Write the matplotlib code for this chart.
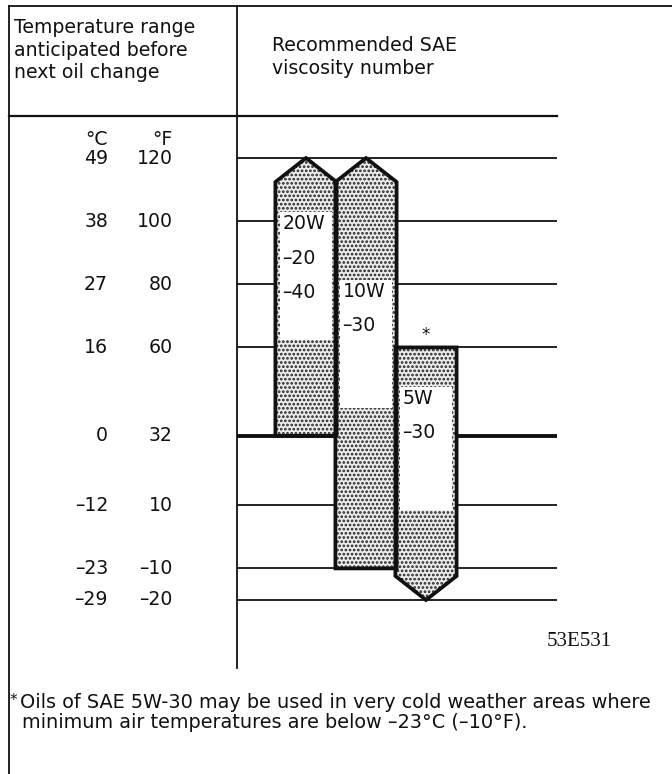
import matplotlib
matplotlib.use('Agg')
import matplotlib.pyplot as plt
from matplotlib.patches import Polygon, Rectangle

plt.rcParams['font.family'] = ['DejaVu Sans']
plt.rcParams['hatch.linewidth'] = 1.3
plt.rcParams['hatch.color'] = '#222222'

# ---------------- data ----------------
temp_c_labels = ['49', '38', '27', '16', '0', '–12', '–23', '–29']
temp_f_labels = ['120', '100', '80', '60', '32', '10', '–10', '–20']
temp_f = [120, 100, 80, 60, 32, 10, -10, -20]

grade_lines = [['20W', '–20', '–40'], ['10W', '–30'], ['5W', '–30']]
range_low_f = [32, -10, -20]
range_high_f = [120, 120, 60]
open_top = [True, True, False]
open_bottom = [False, False, True]
window_low_f = [62.4, 40.8, 8.5]
window_high_f = [102.9, 81.4, 47.5]
asterisk_grade = [False, False, True]

header_left = 'Temperature range\nanticipated before\nnext oil change'
header_right = 'Recommended SAE\nviscosity number'
figure_code = '53E531'
footnote = ['Oils of SAE 5W-30 may be used in very cold weather areas where',
            'minimum air temperatures are below –23°C (–10°F).']

# ---------------- layout ----------------
W, H = 672, 774
fig = plt.figure(figsize=(W / 100, H / 100), dpi=100)
FS = 13.6
TXT = '#111111'

# pixel frame axes
fr = fig.add_axes([0, 0, 1, 1])
fr.set_xlim(0, W)
fr.set_ylim(H, 0)
fr.axis('off')

# data axes: x = bar slot, y = °F (linear)
PX0, PXS = 306.0, 60.0          # pixel of slot 0 centre, pixels per slot
Y120, PPF = 158.0, 3.157        # pixel of 120°F, pixels per °F


def px(xp):
    return (xp - PX0) / PXS


ax = fig.add_axes([0, 0, 1, 1])
ax.set_xlim(px(0), px(W))
ax.set_ylim(120 - (H - Y120) / PPF, 120 + Y120 / PPF)
ax.axis('off')
ax.patch.set_alpha(0)

# frame lines
LINE = '#111111'
fr.plot([9, W], [6, 6], color=LINE, lw=1.3)
fr.plot([9, 9], [6, H], color=LINE, lw=1.3)
fr.plot([237, 237], [6, 668], color=LINE, lw=1.3)
fr.plot([9, 557], [116, 116], color=LINE, lw=1.6)

# header text
fr.text(14, 18, header_left, fontsize=FS, va='top', ha='left',
        linespacing=1.24, color=TXT)
fr.text(272, 36, header_right, fontsize=FS, va='top', ha='left',
        linespacing=1.24, color=TXT)

# grid lines at each temperature
for t in temp_f:
    ax.hlines(t, px(237), px(557), color=LINE,
              lw=2.8 if t == 32 else 1.3, zorder=1)

# temperature labels
ax.text(px(108), temp_f[0] + 6.0, '°C', fontsize=FS, ha='right', va='center', color=TXT)
ax.text(px(173), temp_f[0] + 6.0, '°F', fontsize=FS, ha='right', va='center', color=TXT)
for c, f, t in zip(temp_c_labels, temp_f_labels, temp_f):
    ax.text(px(108), t, c, fontsize=FS, ha='right', va='center', color=TXT)
    ax.text(px(173), t, f, fontsize=FS, ha='right', va='center', color=TXT)

# bars
BW = 1.02      # bar width in slots
TIP = 7.6      # point height in °F
INSET = 5 / PXS
for i, (lo, hi) in enumerate(zip(range_low_f, range_high_f)):
    l, r, c = i - BW / 2, i + BW / 2, i
    pts = []
    if open_bottom[i]:
        pts += [(l, lo + TIP), (c, lo), (r, lo + TIP)]
    else:
        pts += [(l, lo), (r, lo)]
    if open_top[i]:
        pts += [(r, hi - TIP), (c, hi), (l, hi - TIP)]
    else:
        pts += [(r, hi), (l, hi)]
    ax.add_patch(Polygon(pts, closed=True, facecolor='#ececec',
                         edgecolor='#222222', hatch='....', lw=0, zorder=2))
    ax.add_patch(Rectangle((l + INSET, window_low_f[i]), BW - 2 * INSET,
                           window_high_f[i] - window_low_f[i],
                           facecolor='white', edgecolor='none', zorder=3))
    ax.add_patch(Polygon(pts, closed=True, facecolor='none',
                         edgecolor='#111111', lw=2.7, joinstyle='miter',
                         zorder=5))
    for k, s in enumerate(grade_lines[i]):
        ax.text(l + 7 / PXS, window_high_f[i] - 3.7 - k * 10.9, s,
                fontsize=FS, ha='left', va='center', zorder=6, color=TXT)
    if asterisk_grade[i]:
        ax.text(c, hi + 4.0, '*', fontsize=12, ha='center', va='center',
                zorder=6, color=TXT)

# figure code
fr.text(612, 642, figure_code, fontsize=15, ha='right', va='center',
        family=['Liberation Serif', 'DejaVu Serif'], color=TXT)

# footnote
fr.text(10, 700, '*', fontsize=11, ha='left', va='center', color=TXT)
fr.text(20, 702, footnote[0], fontsize=13.9, ha='left', va='center', color=TXT)
fr.text(22, 723, footnote[1], fontsize=13.9, ha='left', va='center', color=TXT)

fig.savefig('out.png', dpi=100)
